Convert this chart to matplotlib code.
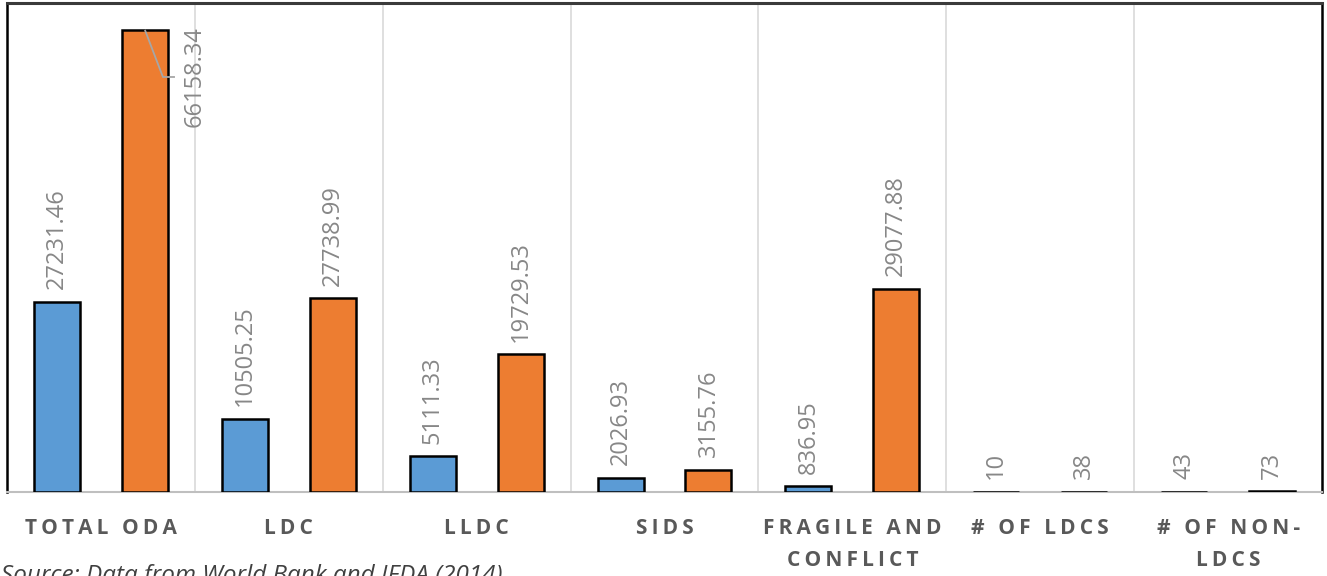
import matplotlib
matplotlib.use("Agg")
import matplotlib.pyplot as plt
from matplotlib.transforms import blended_transform_factory
import numpy as np

categories = ["TOTAL ODA", "LDC", "LLDC", "SIDS", "FRAGILE AND\nCONFLICT",
              "# OF LDCS", "# OF NON-\nLDCS"]
series_a = [27231.46, 10505.25, 5111.33, 2026.93, 836.95, 10, 43]
series_b = [66158.34, 27738.99, 19729.53, 3155.76, 29077.88, 38, 73]
labels_a = ["27231.46", "10505.25", "5111.33", "2026.93", "836.95", "10", "43"]
labels_b = ["66158.34", "27738.99", "19729.53", "3155.76", "29077.88", "38", "73"]

BLUE = "#5B9BD5"
ORANGE = "#ED7D31"
LABEL_GRAY = "#878787"
CAT_GRAY = "#595959"
THIN = "\u2009"

plt.rcParams["font.family"] = ["Open Sans", "DejaVu Sans"]

W, H = 1327, 576
fig = plt.figure(figsize=(W / 100, H / 100), dpi=100)
ax = fig.add_axes([7 / W, 1 - 492 / H, (1322 - 7) / W, (492 - 3) / H])

x = np.arange(len(categories))
off, bw = 0.234, 0.245
ax.bar(x - off, series_a, bw, color=BLUE, edgecolor="black", linewidth=1.8, zorder=5)
ax.bar(x + off, series_b, bw, color=ORANGE, edgecolor="black", linewidth=1.8, zorder=5)

ax.set_xlim(-0.5, len(categories) - 0.5)
ax.set_ylim(0, 70000)
ax.set_yticks([])
ax.set_xticks([])
ax.set_xticks(np.arange(len(categories) - 1) + 0.5, minor=True)
ax.tick_params(which="both", length=0, labelbottom=False)
ax.grid(which="minor", axis="x", color="#D9D9D9", linewidth=1.2, zorder=0)

for side in ("left", "right"):
    ax.spines[side].set_color("black")
    ax.spines[side].set_linewidth(1.8)
ax.spines["top"].set_color("#3A3A3A")
ax.spines["top"].set_linewidth(2.2)
ax.spines["bottom"].set_color("#BFBFBF")
ax.spines["bottom"].set_linewidth(1.5)
ax.spines["bottom"].set_zorder(2.5)

lab_kw = dict(rotation=90, ha="center", va="bottom", color=LABEL_GRAY,
              fontsize=17, textcoords="offset points")
for i in range(len(categories)):
    ax.annotate(labels_a[i], (x[i] - off, series_a[i]), xytext=(0, 9), **lab_kw)
    if i == 0:
        continue
    ax.annotate(labels_b[i], (x[i] + off, series_b[i]), xytext=(0, 9), **lab_kw)

# the tallest label sits beside its bar, joined by a leader line
bx, by = x[0] + off, series_b[0]
ly = by - 6750
ax.plot([bx, bx + 0.096, bx + 0.16], [by, ly, ly], color="#A6A6A6", lw=1.3,
        zorder=6, solid_capstyle="butt")
ax.text(x[0] + 0.5, ly, labels_b[0], rotation=90, ha="center", va="center",
        color=LABEL_GRAY, fontsize=17, zorder=6)

trans = blended_transform_factory(ax.transData, ax.transAxes)
for i, c in enumerate(categories):
    spaced = "\n".join(THIN.join(list(line)) for line in c.split("\n"))
    ax.annotate(spaced, (x[i], 0), xycoords=trans, xytext=(0, -19),
                textcoords="offset points", ha="center", va="top",
                fontsize=15, fontweight="bold", color=CAT_GRAY,
                linespacing=1.65, annotation_clip=False)

fig.text(0.001, 1 - 564 / H, "Source: Data from World Bank and IFDA (2014)",
         ha="left", va="top", fontsize=17.5, style="italic", color="#404040")

fig.savefig("out.png", dpi=100)
